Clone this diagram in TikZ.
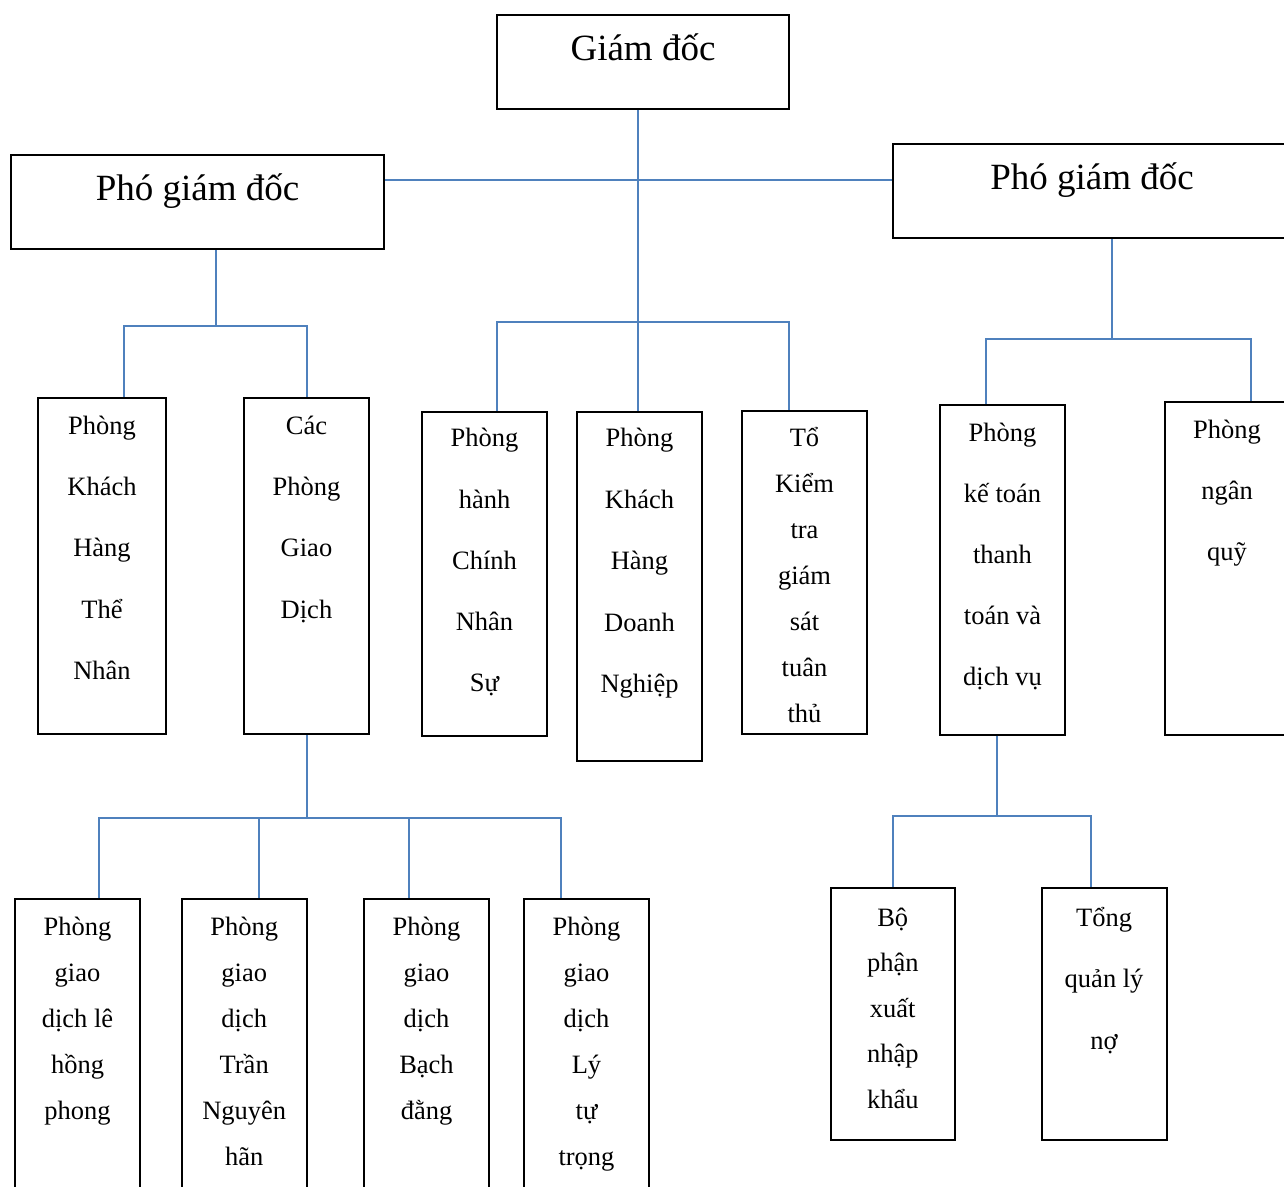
\documentclass[tikz,border=0pt]{standalone}
\usepackage{fontspec}
\setmainfont{Liberation Serif}
\definecolor{linkblue}{RGB}{79,129,189}
\begin{document}
\begin{tikzpicture}[x=1pt,y=-1pt,
  head/.style={rectangle,draw=black,line width=2pt,inner sep=0pt},
  dept/.style={rectangle,draw=black,line width=2pt,inner sep=0pt,minimum width=125},
  headlbl/.style={inner sep=0pt,text height=24.5pt,text depth=0pt,font=\fontsize{37}{41}\selectfont},
  lbl/.style={inner sep=0pt,text height=17.5pt,text depth=0pt,font=\fontsize{26.5}{30}\selectfont},
  link/.style={draw=linkblue,line width=1.6pt}]
\useasboundingbox (0,0) rectangle (1284,1186);
\clip (0,0) rectangle (1284,1186);

\coordinate (j0) at (638,180);
\coordinate (jl) at (216,326);
\coordinate (jl1) at (124,326);
\coordinate (jl2) at (307,326);
\coordinate (jc1) at (497,322);
\coordinate (jc2) at (789,322);
\coordinate (jr) at (1112,339);
\coordinate (jr1) at (986,339);
\coordinate (jr2) at (1251,339);
\coordinate (jb) at (306.7,818);
\coordinate (jb1) at (99,818);
\coordinate (jb2) at (259,818);
\coordinate (jb3) at (409,818);
\coordinate (jb4) at (561,818);
\coordinate (jk) at (996.7,816);
\coordinate (jk1) at (893,816);
\coordinate (jk2) at (1091,816);

\node[head,minimum width=292,minimum height=94] (gd) at (643,62) {};
\node[head,minimum width=373,minimum height=94] (pgdl) at (197.5,202) {};
\node[head,minimum width=398,minimum height=94] (pgdr) at (1092,191) {};
\node[headlbl] (gd-t) at (643,48) {Giám đốc};
\node[headlbl] (pgdl-t) at (197.5,188) {Phó giám đốc};
\node[headlbl] (pgdr-t) at (1092,177) {Phó giám đốc};

\draw[link] (pgdl.east |- j0) -- (pgdr.west |- j0);
\draw[link] (pgdl.south -| jl) -- (jl);
\draw[link] (pgdr.south -| jr) -- (jr);

\node[dept,minimum width=128,minimum height=336] (khtn) at (102,566) {};
\node[dept,minimum height=336] (cpgd) at (306.5,566) {};
\node[dept,minimum height=324] (hcns) at (484.5,573.5) {};
\node[dept,minimum height=349] (khdn) at (639.5,586) {};
\node[dept,minimum height=323] (kttt) at (804.5,572.5) {};
\node[dept,minimum height=329.5] (ktdv) at (1002.5,569.75) {};
\node[dept,minimum height=333] (nq) at (1227,568) {};

\draw[link] (gd.south -| j0) -- (khdn.north -| j0);
\draw[link] (khtn.north -| jl1) -- (jl1) -- (jl2) -- (cpgd.north -| jl2);
\draw[link] (hcns.north -| jc1) -- (jc1) -- (jc2) -- (kttt.north -| jc2);
\draw[link] (ktdv.north -| jr1) -- (jr1) -- (jr2) -- (nq.north -| jr2);

\node[lbl] (khtn-1) at (102,425.5) {Phòng};
\node[lbl] (khtn-2) at (102,486.8) {Khách};
\node[lbl] (khtn-3) at (102,548.1) {Hàng};
\node[lbl] (khtn-4) at (102,609.4) {Thể};
\node[lbl] (khtn-5) at (102,670.7) {Nhân};

\node[lbl] (cpgd-1) at (306.5,425.5) {Các};
\node[lbl] (cpgd-2) at (306.5,486.8) {Phòng};
\node[lbl] (cpgd-3) at (306.5,548.1) {Giao};
\node[lbl] (cpgd-4) at (306.5,609.4) {Dịch};

\node[lbl] (hcns-1) at (484.5,438) {Phòng};
\node[lbl] (hcns-2) at (484.5,499.3) {hành};
\node[lbl] (hcns-3) at (484.5,560.6) {Chính};
\node[lbl] (hcns-4) at (484.5,621.9) {Nhân};
\node[lbl] (hcns-5) at (484.5,683.2) {Sự};

\node[lbl] (khdn-1) at (639.5,438) {Phòng};
\node[lbl] (khdn-2) at (639.5,499.5) {Khách};
\node[lbl] (khdn-3) at (639.5,561) {Hàng};
\node[lbl] (khdn-4) at (639.5,622.5) {Doanh};
\node[lbl] (khdn-5) at (639.5,684) {Nghiệp};

\node[lbl] (kttt-1) at (804.5,438) {Tổ};
\node[lbl] (kttt-2) at (804.5,484) {Kiểm};
\node[lbl] (kttt-3) at (804.5,530) {tra};
\node[lbl] (kttt-4) at (804.5,576) {giám};
\node[lbl] (kttt-5) at (804.5,622) {sát};
\node[lbl] (kttt-6) at (804.5,668) {tuân};
\node[lbl] (kttt-7) at (804.5,714) {thủ};

\node[lbl] (ktdv-1) at (1002.5,433) {Phòng};
\node[lbl] (ktdv-2) at (1002.5,494) {kế toán};
\node[lbl] (ktdv-3) at (1002.5,555) {thanh};
\node[lbl] (ktdv-4) at (1002.5,616) {toán và};
\node[lbl] (ktdv-5) at (1002.5,677) {dịch vụ};

\node[lbl] (nq-1) at (1227,429.5) {Phòng};
\node[lbl] (nq-2) at (1227,490.5) {ngân};
\node[lbl] (nq-3) at (1227,551.5) {quỹ};

\draw[link] (cpgd.south -| jb) -- (jb);
\draw[link] (ktdv.south -| jk) -- (jk);

\node[dept,minimum height=311] (pgd1) at (77.5,1054.5) {};
\node[dept,minimum height=311] (pgd2) at (244.2,1054.5) {};
\node[dept,minimum height=311] (pgd3) at (426.5,1054.5) {};
\node[dept,minimum height=311] (pgd4) at (586.5,1054.5) {};
\node[dept,minimum width=124.5,minimum height=251.5] (bpxnk) at (892.75,1013.75) {};
\node[dept,minimum width=124.8,minimum height=251.5] (tqln) at (1104.1,1013.75) {};

\draw[link] (pgd1.north -| jb1) -- (jb1) -- (jb4) -- (pgd4.north -| jb4);
\draw[link] (jb2) -- (pgd2.north -| jb2);
\draw[link] (jb3) -- (pgd3.north -| jb3);
\draw[link] (bpxnk.north -| jk1) -- (jk1) -- (jk2) -- (tqln.north -| jk2);

\node[lbl] (pgd1-1) at (77.5,926.5) {Phòng};
\node[lbl] (pgd1-2) at (77.5,972.5) {giao};
\node[lbl] (pgd1-3) at (77.5,1018.5) {dịch lê};
\node[lbl] (pgd1-4) at (77.5,1064.5) {hồng};
\node[lbl] (pgd1-5) at (77.5,1110.5) {phong};

\node[lbl] (pgd2-1) at (244.2,926.5) {Phòng};
\node[lbl] (pgd2-2) at (244.2,972.5) {giao};
\node[lbl] (pgd2-3) at (244.2,1018.5) {dịch};
\node[lbl] (pgd2-4) at (244.2,1064.5) {Trần};
\node[lbl] (pgd2-5) at (244.2,1110.5) {Nguyên};
\node[lbl] (pgd2-6) at (244.2,1156.5) {hãn};

\node[lbl] (pgd3-1) at (426.5,926.5) {Phòng};
\node[lbl] (pgd3-2) at (426.5,972.5) {giao};
\node[lbl] (pgd3-3) at (426.5,1018.5) {dịch};
\node[lbl] (pgd3-4) at (426.5,1064.5) {Bạch};
\node[lbl] (pgd3-5) at (426.5,1110.5) {đằng};

\node[lbl] (pgd4-1) at (586.5,926.5) {Phòng};
\node[lbl] (pgd4-2) at (586.5,972.5) {giao};
\node[lbl] (pgd4-3) at (586.5,1018.5) {dịch};
\node[lbl] (pgd4-4) at (586.5,1064.5) {Lý};
\node[lbl] (pgd4-5) at (586.5,1110.5) {tự};
\node[lbl] (pgd4-6) at (586.5,1156.5) {trọng};

\node[lbl] (bpxnk-1) at (892.75,917.5) {Bộ};
\node[lbl] (bpxnk-2) at (892.75,963) {phận};
\node[lbl] (bpxnk-3) at (892.75,1008.5) {xuất};
\node[lbl] (bpxnk-4) at (892.75,1054) {nhập};
\node[lbl] (bpxnk-5) at (892.75,1099.5) {khẩu};

\node[lbl] (tqln-1) at (1104.1,917.5) {Tổng};
\node[lbl] (tqln-2) at (1104.1,979) {quản lý};
\node[lbl] (tqln-3) at (1104.1,1040.5) {nợ};

\end{tikzpicture}
\end{document}
